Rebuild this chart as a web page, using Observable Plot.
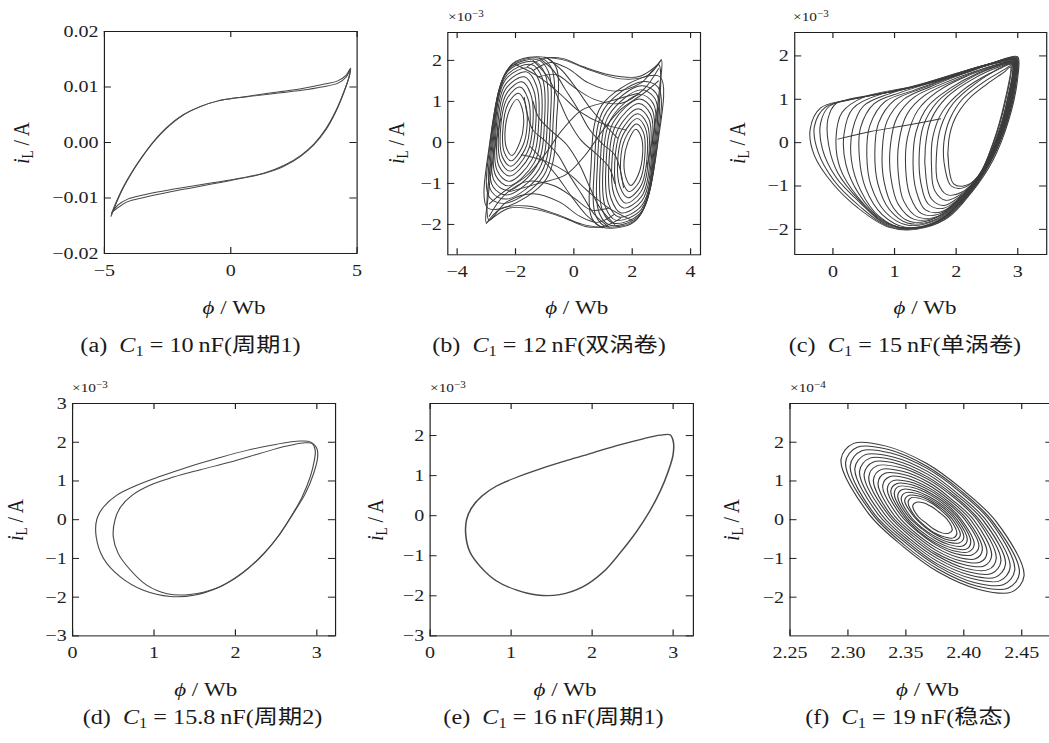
<!DOCTYPE html>
<html><head><meta charset="utf-8">
<script src="https://cdn.jsdelivr.net/npm/d3@7"></script>
<script src="https://cdn.jsdelivr.net/npm/@observablehq/plot@0.6"></script>
<style>
html,body{margin:0;padding:0;background:#fff;overflow:hidden;width:1049px;height:743px;}
#root{position:absolute;left:0;top:0;width:889px;height:743px;transform:scaleX(1.18);transform-origin:0 0;font-family:'Liberation Serif','Noto Sans CJK SC',serif;color:#1a1a1a;}
.t{position:absolute;white-space:nowrap;transform:translate(-50%,-50%);line-height:1;}
.yl{transform:translate(-50%,-50%) rotate(-90deg);}
.cap{font-size:20.5px;}
.lab{font-size:19.5px;}
.exp{position:absolute;font-size:13px;white-space:nowrap;line-height:1;}
.t sub{font-size:0.68em;vertical-align:-0.28em;line-height:0;}
.exp sup{font-size:0.72em;vertical-align:0.45em;line-height:0;}
</style></head><body><div id="root"></div><script>
// ---------- text ----------
const tags = ["(a)", "(b)", "(c)", "(d)", "(e)", "(f)"];
const c1Values = ["10", "12", "15", "15.8", "16", "19"];
const states = ["周期1", "双涡卷", "单涡卷", "周期2", "周期1", "稳态"];
const expLabels = [null, "−3", "−3", "−3", "−3", "−4"];

// ---------- ticks ----------
const aXTicks = [-5, 0, 5], aYTicks = [-0.02, -0.01, 0, 0.01, 0.02];
const bXTicks = [-4, -2, 0, 2, 4], bYTicks = [-2, -1, 0, 1, 2];
const cXTicks = [0, 1, 2, 3], cYTicks = [-2, -1, 0, 1, 2];
const dXTicks = [0, 1, 2, 3], dYTicks = [-3, -2, -1, 0, 1, 2, 3];
const eXTicks = [0, 1, 2, 3], eYTicks = [-3, -2, -1, 0, 1, 2];
const fXTicks = [2.25, 2.30, 2.35, 2.40, 2.45], fYTicks = [-2, -1, 0, 1, 2];

// ---------- (a) C1 = 10 nF, period 1 (phi Wb, iL A) ----------
const aLoop1 = [[-4.74,-0.0133],[-4.54,-0.0110],[-4.27,-0.0083],[-3.94,-0.0056],[-3.55,-0.0029],[-3.09,-0.0001],[-2.56,0.0025],[-1.90,0.0049],[-1.17,0.0065],[-0.51,0.0075],[0.15,0.0080],[0.94,0.0085],[1.86,0.0091],[2.78,0.0097],[3.58,0.0104],[4.23,0.0111],[4.56,0.0121],[4.74,0.0134],
  [4.70,0.0121],[4.50,0.0094],[4.17,0.0058],[3.77,0.0025],[3.31,-0.0002],[2.78,-0.0023],[2.12,-0.0041],[1.33,-0.0055],[0.41,-0.0064],[-0.51,-0.0071],[-1.44,-0.0078],[-2.49,-0.0086],[-3.42,-0.0094],[-4.08,-0.0102],[-4.47,-0.0113],[-4.67,-0.0125],[-4.74,-0.0133]];
const aLoop2 = [[-4.72,-0.0128],[-4.52,-0.0106],[-4.25,-0.0080],[-3.92,-0.0054],[-3.53,-0.0027],[-3.07,0.0001],[-2.54,0.0027],[-1.88,0.0050],[-1.15,0.0066],[-0.49,0.0075],[0.17,0.0080],[0.96,0.0084],[1.88,0.0089],[2.80,0.0094],[3.60,0.0100],[4.25,0.0107],[4.57,0.0118],[4.72,0.0131],
  [4.68,0.0118],[4.48,0.0091],[4.15,0.0055],[3.75,0.0022],[3.29,-0.0004],[2.76,-0.0025],[2.10,-0.0043],[1.31,-0.0056],[0.39,-0.0065],[-0.53,-0.0073],[-1.46,-0.0081],[-2.51,-0.0090],[-3.44,-0.0099],[-4.10,-0.0107],[-4.48,-0.0118],[-4.66,-0.0124],[-4.72,-0.0128]];

// ---------- (b) C1 = 12 nF, double scroll (iL in 1e-3 A) ----------
const bLeftLoops = [
  [[-1.95,1.05],[-1.78,0.85],[-1.72,0.45],[-1.85,0.0],[-2.12,-0.32],[-2.3,-0.15],[-2.36,0.25],[-2.2,0.8]],
  [[-1.9,1.2],[-1.68,0.98],[-1.6,0.45],[-1.76,-0.1],[-2.15,-0.45],[-2.38,-0.25],[-2.44,0.25],[-2.25,0.95]],
  [[-1.85,1.35],[-1.58,1.08],[-1.5,0.48],[-1.68,-0.18],[-2.17,-0.58],[-2.45,-0.35],[-2.52,0.25],[-2.28,1.08]],
  [[-1.78,1.48],[-1.48,1.18],[-1.4,0.5],[-1.6,-0.25],[-2.18,-0.7],[-2.51,-0.45],[-2.58,0.22],[-2.3,1.2]],
  [[-1.7,1.6],[-1.38,1.28],[-1.3,0.52],[-1.52,-0.33],[-2.2,-0.82],[-2.57,-0.57],[-2.63,0.2],[-2.32,1.32]],
  [[-1.62,1.72],[-1.28,1.38],[-1.2,0.55],[-1.44,-0.42],[-2.22,-0.95],[-2.62,-0.7],[-2.68,0.15],[-2.33,1.43]],
  [[-1.54,1.82],[-1.18,1.48],[-1.1,0.57],[-1.36,-0.5],[-2.24,-1.06],[-2.67,-0.82],[-2.72,0.1],[-2.33,1.54]],
  [[-1.45,1.9],[-1.08,1.57],[-1.0,0.6],[-1.28,-0.58],[-2.26,-1.17],[-2.72,-0.95],[-2.76,0.05],[-2.3,1.64]],
  [[-1.35,1.97],[-0.98,1.66],[-0.9,0.62],[-1.2,-0.66],[-2.28,-1.28],[-2.77,-1.08],[-2.8,0.0],[-2.27,1.73]],
  [[-1.25,2.02],[-0.88,1.74],[-0.8,0.64],[-1.12,-0.74],[-2.3,-1.38],[-2.82,-1.2],[-2.84,-0.05],[-2.22,1.8]],
  [[-1.12,2.05],[-0.76,1.8],[-0.7,0.66],[-1.04,-0.82],[-2.32,-1.48],[-2.88,-1.35],[-2.88,-0.1],[-2.17,1.86]],
  [[-0.98,2.07],[-0.62,1.85],[-0.58,0.68],[-0.95,-0.9],[-2.35,-1.58],[-2.95,-1.6],[-2.92,-0.2],[-2.1,1.92]]
];
const bRightLoops = [
  [[1.95,-1.05],[1.78,-0.85],[1.72,-0.45],[1.85,0.0],[2.12,0.32],[2.3,0.15],[2.36,-0.25],[2.2,-0.8]],
  [[1.9,-1.2],[1.68,-0.98],[1.6,-0.45],[1.76,0.1],[2.15,0.45],[2.38,0.25],[2.44,-0.25],[2.25,-0.95]],
  [[1.85,-1.35],[1.58,-1.08],[1.5,-0.48],[1.68,0.18],[2.17,0.58],[2.45,0.35],[2.52,-0.25],[2.28,-1.08]],
  [[1.78,-1.48],[1.48,-1.18],[1.4,-0.5],[1.6,0.25],[2.18,0.7],[2.51,0.45],[2.58,-0.22],[2.3,-1.2]],
  [[1.7,-1.6],[1.38,-1.28],[1.3,-0.52],[1.52,0.33],[2.2,0.82],[2.57,0.57],[2.63,-0.2],[2.32,-1.32]],
  [[1.62,-1.72],[1.28,-1.38],[1.2,-0.55],[1.44,0.42],[2.22,0.95],[2.62,0.7],[2.68,-0.15],[2.33,-1.43]],
  [[1.54,-1.82],[1.18,-1.48],[1.1,-0.57],[1.36,0.5],[2.24,1.06],[2.67,0.82],[2.72,-0.1],[2.33,-1.54]],
  [[1.45,-1.9],[1.08,-1.57],[1.0,-0.6],[1.28,0.58],[2.26,1.17],[2.72,0.95],[2.76,-0.05],[2.3,-1.64]],
  [[1.35,-1.97],[0.98,-1.66],[0.9,-0.62],[1.2,0.66],[2.28,1.28],[2.77,1.08],[2.8,0.0],[2.27,-1.73]],
  [[1.25,-2.02],[0.88,-1.74],[0.8,-0.64],[1.12,0.74],[2.3,1.38],[2.82,1.2],[2.84,0.05],[2.22,-1.8]],
  [[1.12,-2.05],[0.76,-1.8],[0.7,-0.66],[1.04,0.82],[2.32,1.48],[2.88,1.35],[2.88,0.1],[2.17,-1.86]],
  [[0.98,-2.07],[0.62,-1.85],[0.58,-0.68],[0.95,0.9],[2.35,1.58],[2.95,1.6],[2.92,0.2],[2.1,-1.92]]
];
const bCrossings = [
  [[-1.6,1.85],[-1.0,2.05],[-0.4,2.05],[0.3,1.85],[1.2,1.65],[2.2,1.6],[2.8,1.85],[3.0,2.0],[2.95,1.4],[2.75,0.3],[2.5,-0.6]],
  [[-1.4,1.75],[-0.8,1.95],[-0.2,1.8],[0.5,1.45],[1.4,1.25],[2.3,1.45],[2.9,1.9],[2.98,1.6],[2.85,0.5]],
  [[-1.2,1.6],[-0.6,1.65],[0.0,1.35],[0.7,1.05],[1.6,0.95],[2.4,1.3],[2.9,1.8]],
  [[-1.0,2.08],[-0.3,2.0],[0.6,1.75],[1.6,1.55],[2.5,1.62],[3.0,2.02]],
  [[1.6,-1.85],[1.0,-2.05],[0.4,-2.05],[-0.3,-1.85],[-1.2,-1.65],[-2.2,-1.6],[-2.8,-1.85],[-3.0,-1.95],[-2.95,-1.4],[-2.75,-0.3],[-2.5,0.6]],
  [[1.4,-1.75],[0.8,-1.95],[0.2,-1.8],[-0.5,-1.45],[-1.4,-1.25],[-2.3,-1.45],[-2.9,-1.9],[-2.98,-1.6],[-2.85,-0.5]],
  [[1.2,-1.6],[0.6,-1.65],[0.0,-1.35],[-0.7,-1.05],[-1.6,-0.95],[-2.4,-1.3],[-2.9,-1.8]],
  [[1.0,-2.08],[0.3,-2.0],[-0.6,-1.75],[-1.6,-1.55],[-2.5,-1.62],[-3.0,-1.98]],
  [[-1.2,2.06],[-0.7,1.75],[-0.3,1.3],[0.15,0.8],[0.55,0.3],[1.0,-0.05],[1.4,-0.3],[1.6,-0.7],[1.7,-1.1]],
  [[-1.4,2.0],[-0.9,1.6],[-0.55,1.1],[-0.2,0.55],[0.25,0.05],[0.8,-0.3],[1.2,-0.6],[1.4,-1.0]],
  [[-0.9,2.05],[-0.4,1.75],[0.1,1.3],[0.6,0.8],[1.1,0.4],[1.5,0.1]],
  [[1.2,-2.06],[0.7,-1.75],[0.3,-1.3],[-0.15,-0.8],[-0.55,-0.3],[-1.0,0.05],[-1.4,0.3],[-1.6,0.7],[-1.7,1.1]],
  [[1.4,-2.0],[0.9,-1.6],[0.55,-1.1],[0.2,-0.55],[-0.25,-0.05],[-0.8,0.3],[-1.2,0.6],[-1.4,1.0]],
  [[0.9,-2.05],[0.4,-1.75],[-0.1,-1.3],[-0.6,-0.8],[-1.1,-0.4],[-1.5,-0.1]],
  [[-1.8,-0.3],[-1.0,-0.45],[-0.2,-0.75],[0.5,-1.2],[1.2,-1.6],[2.0,-1.9]],
  [[1.8,0.3],[1.0,0.45],[0.2,0.75],[-0.5,1.2],[-1.2,1.6],[-2.0,1.9]],
  [[-2.2,-1.2],[-1.2,-1.0],[-0.3,-0.8],[0.4,-0.3],[1.0,0.3],[1.6,0.8],[2.4,1.2],[2.9,1.5]],
  [[2.2,1.2],[1.2,1.0],[0.3,0.8],[-0.4,0.3],[-1.0,-0.3],[-1.6,-0.8],[-2.4,-1.2],[-2.9,-1.5]]
];

// ---------- (c) C1 = 15 nF, single scroll (iL in 1e-3 A) ----------
const cLoops = [
  [[3.0,1.98],[3.0,1.5],[2.85,0.5],[2.6,-0.4],[2.25,-1.15],[1.85,-1.75],[1.35,-2.0],[0.9,-1.95],[0.4,-1.5],[0.0,-0.95],[-0.3,-0.3],[-0.37,0.3],[-0.2,0.8],[0.2,0.98],[1.1,1.22],[2.2,1.63],[2.9,1.98]],
  [[2.99,1.96],[2.98,1.45],[2.83,0.48],[2.57,-0.42],[2.22,-1.18],[1.8,-1.78],[1.3,-1.99],[0.88,-1.92],[0.42,-1.45],[0.02,-0.88],[-0.24,-0.22],[-0.3,0.38],[-0.12,0.82],[0.3,1.0],[1.15,1.23],[2.2,1.64],[2.88,1.96]],
  [[2.98,1.95],[2.97,1.4],[2.82,0.45],[2.55,-0.45],[2.2,-1.2],[1.75,-1.8],[1.25,-1.98],[0.85,-1.88],[0.45,-1.4],[0.05,-0.8],[-0.17,-0.15],[-0.2,0.45],[-0.05,0.85],[0.4,1.02],[1.2,1.25],[2.2,1.65],[2.85,1.95]],
  [[2.975,1.94],[2.96,1.38],[2.81,0.45],[2.54,-0.48],[2.17,-1.22],[1.72,-1.81],[1.22,-1.97],[0.82,-1.84],[0.42,-1.32],[0.08,-0.7],[-0.07,-0.05],[-0.08,0.55],[0.05,0.9],[0.45,1.04],[1.25,1.27],[2.2,1.66],[2.85,1.94]],
  [[2.97,1.93],[2.95,1.35],[2.8,0.45],[2.52,-0.5],[2.15,-1.25],[1.7,-1.82],[1.2,-1.97],[0.8,-1.8],[0.4,-1.25],[0.12,-0.6],[0.05,0.1],[0.15,0.7],[0.5,1.05],[1.3,1.3],[2.2,1.68],[2.85,1.93]],
  [[2.965,1.925],[2.94,1.32],[2.79,0.42],[2.51,-0.5],[2.13,-1.28],[1.67,-1.84],[1.17,-1.98],[0.77,-1.75],[0.42,-1.18],[0.21,-0.5],[0.18,0.2],[0.32,0.78],[0.7,1.08],[1.45,1.35],[2.25,1.7],[2.85,1.925]],
  [[2.96,1.92],[2.93,1.3],[2.78,0.4],[2.5,-0.5],[2.12,-1.3],[1.65,-1.85],[1.15,-1.98],[0.75,-1.7],[0.45,-1.1],[0.3,-0.4],[0.32,0.3],[0.5,0.85],[0.9,1.12],[1.6,1.4],[2.3,1.72],[2.85,1.92]],
  [[2.955,1.91],[2.925,1.28],[2.77,0.38],[2.49,-0.52],[2.11,-1.3],[1.65,-1.83],[1.17,-1.95],[0.8,-1.66],[0.53,-1.05],[0.43,-0.35],[0.45,0.35],[0.67,0.9],[1.1,1.16],[1.75,1.45],[2.35,1.74],[2.85,1.91]],
  [[2.95,1.9],[2.92,1.25],[2.76,0.35],[2.48,-0.55],[2.1,-1.3],[1.65,-1.8],[1.2,-1.9],[0.85,-1.6],[0.62,-1.0],[0.55,-0.3],[0.6,0.4],[0.85,0.95],[1.3,1.2],[1.9,1.5],[2.4,1.75],[2.85,1.9]],
  [[2.945,1.89],[2.91,1.22],[2.755,0.32],[2.465,-0.58],[2.09,-1.3],[1.65,-1.78],[1.22,-1.86],[0.92,-1.55],[0.73,-0.95],[0.68,-0.25],[0.74,0.45],[1.0,0.98],[1.45,1.25],[2.0,1.54],[2.5,1.78],[2.87,1.89]],
  [[2.94,1.88],[2.9,1.2],[2.75,0.3],[2.45,-0.6],[2.08,-1.3],[1.65,-1.75],[1.25,-1.82],[0.98,-1.5],[0.83,-0.9],[0.8,-0.2],[0.88,0.5],[1.15,1.0],[1.6,1.3],[2.1,1.58],[2.55,1.8],[2.88,1.88]],
  [[2.935,1.87],[2.89,1.18],[2.735,0.28],[2.435,-0.62],[2.065,-1.3],[1.68,-1.72],[1.32,-1.77],[1.06,-1.42],[0.94,-0.8],[0.93,-0.1],[1.04,0.58],[1.32,1.05],[1.78,1.36],[2.3,1.64],[2.86,1.87]],
  [[2.93,1.86],[2.88,1.15],[2.72,0.25],[2.42,-0.65],[2.05,-1.3],[1.7,-1.7],[1.38,-1.72],[1.15,-1.35],[1.06,-0.7],[1.07,0.0],[1.2,0.65],[1.5,1.1],[1.95,1.42],[2.45,1.7],[2.85,1.86]],
  [[2.925,1.85],[2.87,1.12],[2.71,0.22],[2.41,-0.68],[2.05,-1.3],[1.72,-1.65],[1.44,-1.64],[1.25,-1.22],[1.18,-0.58],[1.21,0.12],[1.38,0.75],[1.7,1.18],[2.15,1.52],[2.82,1.84]],
  [[2.92,1.84],[2.86,1.1],[2.7,0.2],[2.4,-0.7],[2.05,-1.3],[1.75,-1.6],[1.5,-1.55],[1.35,-1.1],[1.3,-0.45],[1.35,0.25],[1.55,0.85],[1.9,1.25],[2.35,1.6],[2.8,1.82]],
  [[2.915,1.83],[2.855,1.07],[2.69,0.17],[2.39,-0.72],[2.05,-1.28],[1.78,-1.52],[1.55,-1.42],[1.43,-0.95],[1.4,-0.28],[1.47,0.4],[1.7,0.95],[2.07,1.35],[2.55,1.7]],
  [[2.91,1.82],[2.85,1.05],[2.68,0.15],[2.38,-0.75],[2.05,-1.25],[1.8,-1.45],[1.6,-1.3],[1.51,-0.8],[1.5,-0.1],[1.6,0.55],[1.85,1.05],[2.25,1.45],[2.7,1.75]],
  [[2.905,1.81],[2.84,1.02],[2.665,0.12],[2.375,-0.75],[2.065,-1.2],[1.83,-1.33],[1.65,-1.1],[1.6,-0.55],[1.62,0.12],[1.78,0.72],[2.1,1.2],[2.55,1.6]],
  [[2.9,1.8],[2.83,1.0],[2.65,0.1],[2.37,-0.75],[2.08,-1.15],[1.85,-1.2],[1.7,-0.9],[1.68,-0.3],[1.75,0.35],[1.95,0.9],[2.3,1.35],[2.7,1.7]],
  [[2.89,1.78],[2.8,0.95],[2.62,0.05],[2.35,-0.78],[2.1,-1.05],[1.92,-1.0],[1.82,-0.6],[1.8,0.0],[1.9,0.55],[2.1,1.0],[2.45,1.4],[2.8,1.7]],
  [[2.88,1.75],[2.78,0.9],[2.6,0.0],[2.35,-0.8],[2.12,-1.0],[1.96,-0.95],[1.88,-0.55],[1.88,0.05],[1.98,0.55],[2.2,1.0],[2.5,1.35],[2.8,1.65]]
];
const cSegment = [[0.08,0.08],[0.6,0.25],[1.2,0.4],[1.75,0.55]];

// ---------- (d) C1 = 15.8 nF, period 2 (iL in 1e-3 A) ----------
const dOuter = [[2.92,2.01],[3.0,1.84],[3.01,1.62],[2.96,1.19],[2.86,0.68],[2.71,0.16],[2.55,-0.36],[2.35,-0.87],[2.10,-1.35],[1.81,-1.73],[1.49,-1.95],[1.20,-1.98],[0.87,-1.82],[0.59,-1.48],[0.38,-1.00],[0.29,-0.44],[0.30,0.03],[0.38,0.33],[0.54,0.63],[0.79,0.89],[1.08,1.12],[1.40,1.35],[1.77,1.58],[2.14,1.79],[2.51,1.95],[2.80,2.03]];
const dInner = [[2.94,1.97],[2.98,1.79],[2.97,1.54],[2.92,1.11],[2.82,0.59],[2.68,0.07],[2.52,-0.44],[2.33,-0.92],[2.08,-1.39],[1.79,-1.75],[1.44,-1.93],[1.16,-1.91],[0.91,-1.69],[0.71,-1.30],[0.56,-0.87],[0.50,-0.44],[0.52,-0.01],[0.59,0.33],[0.73,0.63],[0.95,0.89],[1.24,1.10],[1.57,1.29],[1.94,1.49],[2.30,1.71],[2.63,1.90],[2.83,1.98]];

// ---------- (e) C1 = 16 nF, period 1 (iL in 1e-3 A) ----------
const eLoop = [[2.96,2.02],[3.0,1.87],[3.0,1.53],[2.94,1.11],[2.84,0.61],[2.71,0.11],[2.55,-0.39],[2.34,-0.94],[2.14,-1.40],[1.89,-1.77],[1.60,-1.97],[1.32,-1.98],[1.07,-1.86],[0.82,-1.63],[0.62,-1.27],[0.49,-0.90],[0.44,-0.48],[0.45,-0.10],[0.51,0.19],[0.64,0.49],[0.82,0.74],[1.07,0.96],[1.36,1.17],[1.69,1.38],[2.01,1.57],[2.34,1.77],[2.63,1.92],[2.84,2.01]];

// ---------- (f) C1 = 19 nF, stable focus (iL in 1e-4 A) ----------
const fLoops = [
  [[2.294,1.55],[2.305,1.97],[2.333,1.90],[2.368,1.45],[2.398,0.80],[2.428,-0.05],[2.452,-1.45],[2.441,-1.87],[2.413,-1.80],[2.378,-1.35],[2.348,-0.70],[2.318,0.15]],
  [[2.298,1.48],[2.308,1.87],[2.335,1.81],[2.368,1.38],[2.397,0.76],[2.425,-0.05],[2.448,-1.38],[2.438,-1.77],[2.411,-1.71],[2.378,-1.28],[2.349,-0.66],[2.321,0.15]],
  [[2.302,1.40],[2.312,1.78],[2.337,1.72],[2.369,1.31],[2.396,0.73],[2.423,-0.04],[2.444,-1.30],[2.434,-1.68],[2.409,-1.62],[2.378,-1.21],[2.351,-0.63],[2.323,0.14]],
  [[2.306,1.33],[2.315,1.68],[2.339,1.62],[2.369,1.24],[2.394,0.69],[2.420,-0.04],[2.440,-1.23],[2.431,-1.58],[2.407,-1.52],[2.377,-1.14],[2.352,-0.59],[2.326,0.14]],
  [[2.310,1.25],[2.319,1.59],[2.341,1.53],[2.369,1.17],[2.393,0.65],[2.417,-0.03],[2.436,-1.15],[2.427,-1.49],[2.405,-1.43],[2.377,-1.07],[2.353,-0.55],[2.329,0.13]],
  [[2.314,1.18],[2.322,1.49],[2.343,1.44],[2.369,1.10],[2.392,0.61],[2.414,-0.03],[2.432,-1.08],[2.424,-1.39],[2.403,-1.34],[2.377,-1.00],[2.354,-0.51],[2.332,0.13]],
  [[2.318,1.10],[2.325,1.39],[2.345,1.35],[2.370,1.03],[2.391,0.58],[2.412,-0.02],[2.428,-1.00],[2.421,-1.29],[2.401,-1.25],[2.377,-0.93],[2.356,-0.48],[2.335,0.12]],
  [[2.322,1.03],[2.329,1.30],[2.347,1.25],[2.370,0.96],[2.389,0.54],[2.409,-0.02],[2.424,-0.93],[2.417,-1.20],[2.399,-1.15],[2.376,-0.86],[2.357,-0.44],[2.337,0.12]],
  [[2.326,0.95],[2.332,1.20],[2.349,1.16],[2.370,0.89],[2.388,0.50],[2.406,-0.01],[2.420,-0.85],[2.414,-1.10],[2.397,-1.06],[2.376,-0.79],[2.358,-0.40],[2.340,0.11]],
  [[2.330,0.88],[2.336,1.11],[2.351,1.07],[2.370,0.82],[2.387,0.46],[2.403,0.00],[2.416,-0.78],[2.410,-1.01],[2.395,-0.97],[2.376,-0.72],[2.359,-0.36],[2.343,0.11]],
  [[2.334,0.80],[2.339,1.01],[2.353,0.98],[2.371,0.75],[2.386,0.43],[2.401,0.00],[2.413,-0.70],[2.407,-0.91],[2.393,-0.88],[2.376,-0.65],[2.361,-0.33],[2.346,0.10]],
  [[2.337,0.74],[2.342,0.93],[2.355,0.90],[2.371,0.69],[2.385,0.40],[2.398,0.00],[2.409,-0.64],[2.404,-0.83],[2.391,-0.80],[2.375,-0.59],[2.361,-0.30],[2.348,0.10]],
  [[2.340,0.68],[2.344,0.86],[2.356,0.83],[2.371,0.64],[2.384,0.37],[2.396,0.01],[2.406,-0.58],[2.402,-0.76],[2.390,-0.73],[2.375,-0.54],[2.362,-0.27],[2.350,0.09]],
  [[2.343,0.62],[2.347,0.78],[2.358,0.75],[2.371,0.58],[2.383,0.34],[2.394,0.01],[2.403,-0.52],[2.399,-0.68],[2.388,-0.65],[2.375,-0.48],[2.364,-0.24],[2.352,0.09]],
  [[2.346,0.56],[2.350,0.70],[2.359,0.68],[2.371,0.53],[2.382,0.31],[2.392,0.02],[2.400,-0.46],[2.396,-0.60],[2.387,-0.58],[2.375,-0.43],[2.364,-0.21],[2.354,0.08]],
  [[2.349,0.50],[2.353,0.63],[2.361,0.61],[2.372,0.47],[2.381,0.28],[2.390,0.02],[2.397,-0.40],[2.393,-0.53],[2.385,-0.51],[2.375,-0.37],[2.366,-0.18],[2.357,0.08]],
  [[2.352,0.46],[2.355,0.57],[2.362,0.55],[2.372,0.43],[2.380,0.25],[2.388,0.02],[2.394,-0.36],[2.391,-0.47],[2.384,-0.45],[2.374,-0.33],[2.366,-0.15],[2.358,0.08]],
  [[2.356,0.37],[2.359,0.45],[2.365,0.44],[2.372,0.34],[2.378,0.21],[2.385,0.03],[2.390,-0.27],[2.387,-0.35],[2.381,-0.34],[2.374,-0.24],[2.368,-0.10],[2.361,0.07]]
];

// ---------- layout ----------
const SX = 1.18;
const root = document.getElementById("root");
const INK = "#1f1f1f";
const fmtInt = d3.format("d");

function panel(cfg) {
  const [fx0, fx1, fy0, fy1] = cfg.frame;
  const ml = 60, mr = 14, mt = 12, mb = 40;
  const iw = (fx1 - fx0) / SX, ih = fy1 - fy0;
  const marks = [
    ...cfg.lines.map(l => Plot.line(l.pts, {x: d => d[0], y: d => d[1], curve: l.curve, stroke: l.c, strokeWidth: l.w, clip: true})),
    Plot.tickX(cfg.xticks, {x: d => d, insetTop: ih - 6, stroke: INK}),
    Plot.tickX(cfg.xticks, {x: d => d, insetBottom: ih - 6, stroke: INK}),
    Plot.tickY(cfg.yticks, {y: d => d, insetRight: iw - 6, stroke: INK}),
    Plot.tickY(cfg.yticks, {y: d => d, insetLeft: iw - 6, stroke: INK}),
    Plot.frame({stroke: INK, strokeWidth: 1})
  ];
  const svg = Plot.plot({
    width: iw + ml + mr, height: ih + mt + mb,
    marginLeft: ml, marginRight: mr, marginTop: mt, marginBottom: mb,
    x: {domain: cfg.xdomain, ticks: cfg.xticks, tickFormat: cfg.xfmt, tickSize: 0, tickPadding: 10, label: null},
    y: {domain: cfg.ydomain, ticks: cfg.yticks, tickFormat: cfg.yfmt, tickSize: 0, tickPadding: 5, label: null},
    style: {fontFamily: "'Liberation Serif', serif", fontSize: "17px", color: INK, background: "transparent", overflow: "visible"},
    marks
  });
  svg.style.position = "absolute";
  svg.style.left = (fx0 / SX - ml) + "px";
  svg.style.top = (fy0 - mt) + "px";
  root.appendChild(svg);
}

function text(html, cx, cy, cls) {
  const d = document.createElement("div");
  d.className = "t " + cls;
  d.innerHTML = html;
  d.style.left = (cx / SX) + "px";
  d.style.top = cy + "px";
  root.appendChild(d);
}
function expo(p, x, y) {
  const d = document.createElement("div");
  d.className = "exp";
  d.innerHTML = "×10<sup>" + p + "</sup>";
  d.style.left = (x / SX) + "px";
  d.style.top = y + "px";
  root.appendChild(d);
}

const closed = "catmull-rom-closed", open = "catmull-rom";
const L1 = "#4a4a4a", L2 = "#3c3c3c";
const panels = [
  {frame: [103.3, 356, 31, 253], xdomain: [-5, 5], ydomain: [-0.02, 0.02], xticks: aXTicks, yticks: aYTicks,
   xfmt: fmtInt, yfmt: d3.format(".2f"),
   lines: [{pts: aLoop1, curve: open, w: 1, c: L1}, {pts: aLoop2, curve: open, w: 1, c: L1}],
   xl: [234, 308], yl: [21.7, 143], cap: [190.5, 345], ex: null},
  {frame: [447.3, 700, 32, 254.3], xdomain: [-4.32, 4.34], ydomain: [-2.74, 2.68], xticks: bXTicks, yticks: bYTicks,
   xfmt: fmtInt, yfmt: fmtInt,
   lines: [...bLeftLoops.map(p => ({pts: p, curve: closed, w: 0.9, c: L2})), ...bRightLoops.map(p => ({pts: p, curve: closed, w: 0.9, c: L2})), ...bCrossings.map(p => ({pts: p, curve: open, w: 0.9, c: L2}))],
   xl: [576.7, 308], yl: [396, 143], cap: [549, 345], ex: [448, 10]},
  {frame: [794.7, 1046.7, 32.3, 254.3], xdomain: [-0.62, 3.47], ydomain: [-2.58, 2.54], xticks: cXTicks, yticks: cYTicks,
   xfmt: fmtInt, yfmt: fmtInt,
   lines: [...cLoops.map(p => ({pts: p, curve: closed, w: 0.9, c: L2})), {pts: cSegment, curve: open, w: 0.9, c: L2}],
   xl: [925, 308], yl: [737.5, 143], cap: [905, 345], ex: [793, 10]},
  {frame: [72.3, 335.3, 403.3, 635.7], xdomain: [0, 3.23], ydomain: [-3, 3], xticks: dXTicks, yticks: dYTicks,
   xfmt: fmtInt, yfmt: fmtInt,
   lines: [{pts: dOuter, curve: closed, w: 1, c: L1}, {pts: dInner, curve: closed, w: 1, c: L1}],
   xl: [205.7, 690], yl: [15, 520], cap: [202.5, 717], ex: [72, 381]},
  {frame: [430, 693.3, 403.3, 635.7], xdomain: [0, 3.25], ydomain: [-3, 2.8], xticks: eXTicks, yticks: eYTicks,
   xfmt: fmtInt, yfmt: fmtInt,
   lines: [{pts: eLoop, curve: closed, w: 1.3, c: L1}],
   xl: [565, 690], yl: [375, 520], cap: [553.5, 717], ex: [430, 381]},
  {frame: [790, 1053, 403.3, 635.7], xdomain: [2.25, 2.477], ydomain: [-3, 3], xticks: fXTicks, yticks: fYTicks,
   xfmt: d3.format(".2f"), yfmt: fmtInt,
   lines: fLoops.map(p => ({pts: p, curve: closed, w: 1, c: L2})),
   xl: [927.5, 690], yl: [732, 520], cap: [908, 717], ex: [790, 381]}
];

panels.forEach((p, i) => {
  panel(p);
  text("<i>ϕ</i> / Wb", p.xl[0], p.xl[1], "lab");
  text("<i>i</i><sub>L</sub> / A", p.yl[0], p.yl[1], "lab yl");
  text(tags[i] + "&ensp;<i>C</i><sub>1</sub>&nbsp;=&nbsp;" + c1Values[i] + "&thinsp;nF(" + states[i] + ")", p.cap[0], p.cap[1], "cap");
  if (expLabels[i]) expo(expLabels[i], p.ex[0], p.ex[1]);
});
</script></body></html>
